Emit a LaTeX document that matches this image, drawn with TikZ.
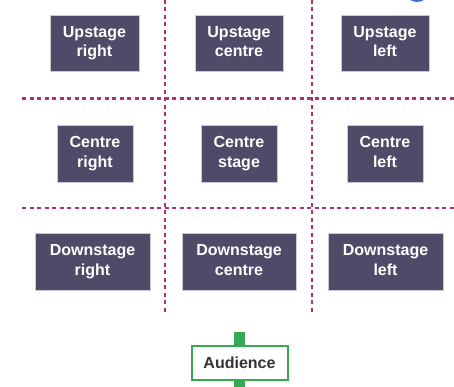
\documentclass[tikz,border=0pt]{standalone}
\usepackage{fontspec}
\setmainfont{Liberation Sans}
\definecolor{boxfill}{HTML}{4E4B68}
\definecolor{boxedge}{HTML}{C9C8D3}
\definecolor{grid}{HTML}{A8336F}
\definecolor{aud}{HTML}{34A852}
\definecolor{bluec}{HTML}{3C6FD2}
\newcommand{\twol}[2]{\strut #1\\\strut #2}
\tikzset{
  stagebox/.style={fill=boxfill, draw=boxedge, line width=0.6pt, text=white,
    font=\bfseries\fontsize{16}{19.5}\selectfont, align=center, inner sep=0pt},
  gridline/.style={draw=grid, line width=2.6pt, dash pattern=on 4pt off 3.5pt},
}
\begin{document}
\begin{tikzpicture}[x=1pt,y=-1pt]
\useasboundingbox (0,0) rectangle (454,387);
\begin{scope}
\clip (0,0) rectangle (454,387);
\draw[bluec, line width=2pt] (417,-9) ellipse (11 and 10);
\end{scope}
% grid lines
\coordinate (v1t) at (165,0); \coordinate (v1b) at (165,314);
\coordinate (v2t) at (312,0); \coordinate (v2b) at (312,314);
\coordinate (h1l) at (22,98.5); \coordinate (h1r) at (454,98.5);
\coordinate (h2l) at (22,208); \coordinate (h2r) at (454,208);
\draw[gridline] (v1t) -- (v1b);
\draw[gridline] (v2t) -- (v2b);
\draw[gridline] (h1l) -- (h1r);
\draw[gridline] (h2l) -- (h2r);
% boxes
\node[stagebox, minimum width=89pt, minimum height=56pt] (ur) at (94.5,43) {\twol{Upstage}{right}};
\node[stagebox, minimum width=88pt, minimum height=56pt] (uc) at (239,43) {\twol{Upstage}{centre}};
\node[stagebox, minimum width=88pt, minimum height=56pt] (ul) at (385,43) {\twol{Upstage}{left}};
\node[stagebox, minimum width=76pt, minimum height=57pt] (cr) at (95,153.5) {\twol{Centre}{right}};
\node[stagebox, minimum width=76pt, minimum height=57pt] (cs) at (239,153.5) {\twol{Centre}{stage}};
\node[stagebox, minimum width=76pt, minimum height=57pt] (cl) at (385,153.5) {\twol{Centre}{left}};
\node[stagebox, minimum width=115pt, minimum height=57pt] (dr) at (92.5,261.5) {\twol{Downstage}{right}};
\node[stagebox, minimum width=114pt, minimum height=57pt] (dc) at (239,261.5) {\twol{Downstage}{centre}};
\node[stagebox, minimum width=115pt, minimum height=57pt] (dl) at (385.5,261.5) {\twol{Downstage}{left}};
% audience
\coordinate (stt) at (239.5,332);
\coordinate (stb) at (239.5,390);
\draw[aud, line width=11pt] (stt) -- (stb);
\node[fill=white, draw=aud, line width=2pt, minimum width=96pt, minimum height=34pt,
  inner sep=0pt, text=black!80, font=\bfseries\fontsize{16}{19}\selectfont] (aud) at (239.5,362.5) {Audience};
\end{tikzpicture}
\end{document}
